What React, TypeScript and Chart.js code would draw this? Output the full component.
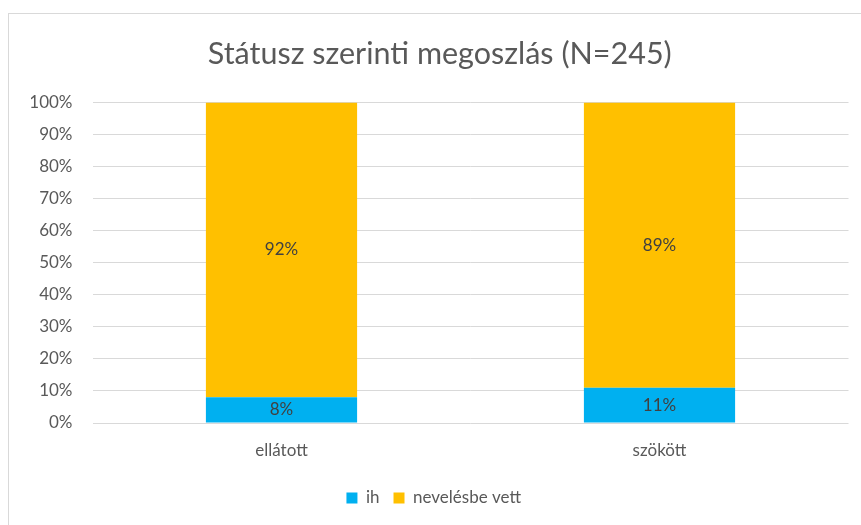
import React, { useEffect, useRef } from "react";
import { Chart, registerables } from "chart.js";

Chart.register(...registerables);

const categories = ["ellátott", "szökött"];
const seriesNames = ["ih", "nevelésbe vett"];
const ihValues = [8, 11];
const neveltValues = [92, 89];
const yTicks = [0, 10, 20, 30, 40, 50, 60, 70, 80, 90, 100];
const titleText = "Státusz szerinti megoszlás (N=245)";

const FONT = "Lato, 'Open Sans', sans-serif";
const TEXT = "#595959";

export default function App() {
  const ref = useRef<HTMLCanvasElement | null>(null);
  useEffect(() => {
    const canvas = ref.current;
    if (!canvas) return;

    const framePlugin = {
      id: "frame",
      beforeDraw(chart: any) {
        const ctx = chart.ctx;
        ctx.save();
        ctx.fillStyle = "#ffffff";
        ctx.fillRect(0, 0, chart.width, chart.height);
        ctx.strokeStyle = "#d9d9d9";
        ctx.lineWidth = 1;
        ctx.strokeRect(8.5, 13.5, chart.width + 20, chart.height + 20);
        ctx.restore();
      },
    };

    const legendShift = {
      id: "legendShift",
      afterLayout(chart: any) {
        const lg = chart.legend;
        if (lg) {
          lg.left -= 6;
          lg.right -= 6;
        }
      },
    };

    const valueLabels = {
      id: "valueLabels",
      afterDatasetsDraw(chart: any) {
        const ctx = chart.ctx;
        ctx.save();
        ctx.font = `17px ${FONT}`;
        ctx.fillStyle = "#404040";
        ctx.textAlign = "center";
        ctx.textBaseline = "middle";
        chart.data.datasets.forEach((ds: any, di: number) => {
          const meta = chart.getDatasetMeta(di);
          meta.data.forEach((bar: any, i: number) => {
            const p = bar.getProps(["x", "y", "base"], true);
            ctx.fillText(ds.data[i] + "%", p.x, (p.y + p.base) / 2);
          });
        });
        ctx.restore();
      },
    };

    const chart = new Chart(canvas, {
      type: "bar",
      data: {
        labels: categories,
        datasets: [
          {
            label: seriesNames[0],
            data: ihValues,
            backgroundColor: "#00B0F0",
            categoryPercentage: 0.8,
            barPercentage: 0.5,
          },
          {
            label: seriesNames[1],
            data: neveltValues,
            backgroundColor: "#FFC000",
            categoryPercentage: 0.8,
            barPercentage: 0.5,
          },
        ],
      },
      options: {
        responsive: false,
        animation: false,
        layout: { padding: { left: 31, right: 12.5, top: 14, bottom: 8.5 } },
        plugins: {
          title: {
            display: true,
            text: titleText,
            color: TEXT,
            font: { family: FONT, size: 30.5, weight: "normal" },
            padding: { top: 22, bottom: 30 },
          },
          legend: {
            display: true,
            position: "bottom",
            labels: {
              color: TEXT,
              font: { family: FONT, size: 17 },
              boxWidth: 11,
              boxHeight: 11,
              padding: 14,
            },
          },
          tooltip: { enabled: false },
        },
        scales: {
          x: {
            stacked: true,
            grid: { display: false, drawTicks: false },
            border: { display: false },
            ticks: { color: TEXT, font: { family: FONT, size: 17 }, padding: 17 },
            afterFit(scale: any) {
              scale.height = 52.5;
            },
          },
          y: {
            stacked: true,
            min: 0,
            max: 100,
            afterBuildTicks(scale: any) {
              scale.ticks = yTicks.map((v) => ({ value: v }));
            },
            grid: { color: "#d9d9d9", drawTicks: false },
            border: { display: false },
            ticks: {
              color: TEXT,
              font: { family: FONT, size: 17 },
              padding: 20,
              callback: (v: any) => v + "%",
            },
            afterFit(scale: any) {
              scale.width = 61.5;
            },
          },
        },
      },
      plugins: [framePlugin, legendShift, valueLabels],
    });
    return () => chart.destroy();
  }, []);

  return (
    <div style={{ position: "absolute", left: 0, top: 0, width: 861, height: 525 }}>
      <canvas ref={ref} width={861} height={525} style={{ width: 861, height: 525 }} />
    </div>
  );
}
